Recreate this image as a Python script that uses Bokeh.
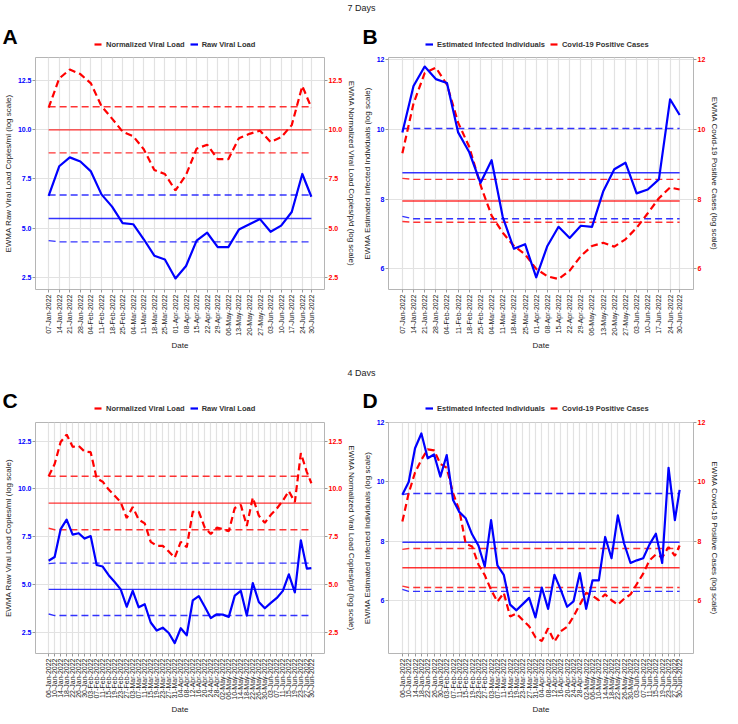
import math
from datetime import datetime
from bokeh.plotting import figure
from bokeh.models import (Range1d, LinearAxis, FixedTicker, NumeralTickFormatter,
                          Legend, LegendItem, ColumnDataSource, Label)
from bokeh.layouts import column, row
from bokeh.embed import file_html
from bokeh.resources import INLINE

# ---------------- data ----------------
dates7 = ["2022-01-07", "2022-01-14", "2022-01-21", "2022-01-28", "2022-02-04", "2022-02-11",
          "2022-02-18", "2022-02-25", "2022-03-04", "2022-03-11", "2022-03-18", "2022-03-25",
          "2022-04-01", "2022-04-08", "2022-04-15", "2022-04-22", "2022-04-29", "2022-05-06",
          "2022-05-13", "2022-05-20", "2022-05-27", "2022-06-03", "2022-06-10", "2022-06-17",
          "2022-06-24", "2022-06-30"]

dates4 = ["2022-01-06", "2022-01-10", "2022-01-14", "2022-01-18", "2022-01-22", "2022-01-26",
          "2022-01-30", "2022-02-03", "2022-02-07", "2022-02-11", "2022-02-15", "2022-02-19",
          "2022-02-23", "2022-02-27", "2022-03-03", "2022-03-07", "2022-03-11", "2022-03-15",
          "2022-03-19", "2022-03-23", "2022-03-27", "2022-03-31", "2022-04-04", "2022-04-08",
          "2022-04-12", "2022-04-16", "2022-04-20", "2022-04-24", "2022-04-28", "2022-05-02",
          "2022-05-06", "2022-05-10", "2022-05-14", "2022-05-18", "2022-05-22", "2022-05-26",
          "2022-05-30", "2022-06-03", "2022-06-07", "2022-06-11", "2022-06-15", "2022-06-19",
          "2022-06-23", "2022-06-27", "2022-06-30"]

# Panel A (7 days): raw vs normalized viral load
a_raw = [6.64, 8.14, 8.59, 8.38, 7.88, 6.72, 6.10, 5.27, 5.21, 4.45, 3.62, 3.43, 2.47,
         3.10, 4.38, 4.78, 4.05, 4.05, 4.94, 5.21, 5.47, 4.83, 5.14, 5.83, 7.75, 6.60]
a_norm = [11.10, 12.58, 13.03, 12.80, 12.33, 11.18, 10.55, 9.89, 9.66, 9.00, 7.95, 7.75, 6.92,
          7.70, 9.03, 9.23, 8.50, 8.50, 9.56, 9.78, 9.94, 9.37, 9.61, 10.22, 12.20, 11.10]
# control limits: (first value, steady value)
a_raw_lim = {"center": (5.50, 5.50), "ucl": (6.69, 6.69), "lcl": (4.38, 4.32)}
a_norm_lim = {"center": (9.98, 9.98), "ucl": (11.15, 11.15), "lcl": (8.82, 8.82)}

# Panel B (7 days): estimated infected vs positive cases
b_est = [9.92, 11.25, 11.81, 11.45, 11.34, 9.92, 9.35, 8.47, 9.12, 7.49, 6.58, 6.71, 5.76,
         6.66, 7.21, 6.89, 7.24, 7.21, 8.22, 8.86, 9.05, 8.17, 8.28, 8.57, 10.87, 10.42]
b_cases = [9.32, 10.75, 11.62, 11.78, 11.29, 10.20, 9.50, 8.41, 7.53, 7.04, 6.66, 6.42, 6.00,
           5.79, 5.71, 5.95, 6.37, 6.66, 6.75, 6.64, 6.85, 7.18, 7.60, 8.03, 8.34, 8.28]
b_est_lim = {"center": (8.76, 8.76), "ucl": (10.03, 10.03), "lcl": (7.51, 7.44)}
b_cases_lim = {"center": (7.95, 7.95), "ucl": (8.60, 8.57), "lcl": (7.36, 7.34)}

# Panel C (4 days): raw vs normalized viral load
c_raw = [6.25, 6.45, 7.90, 8.40, 7.62, 7.69, 7.41, 7.54, 6.03, 5.95, 5.50, 5.14, 4.76, 3.85,
         4.68, 3.82, 3.98, 3.03, 2.61, 2.76, 2.48, 1.95, 2.73, 2.36, 4.18, 4.41, 3.85, 3.26,
         3.46, 3.44, 3.32, 4.43, 4.68, 3.39, 5.09, 4.10, 3.77, 4.05, 4.31, 4.68, 5.54, 4.60,
         7.32, 5.84, 5.87]
c_norm = [10.66, 11.30, 12.45, 12.84, 12.20, 12.25, 11.95, 11.92, 10.55, 10.38, 9.97, 9.64,
          9.31, 8.48, 9.06, 8.40, 8.20, 7.24, 7.03, 7.03, 6.74, 6.41, 7.24, 6.96, 8.81, 8.81,
          7.98, 7.65, 7.98, 7.90, 7.80, 9.01, 9.17, 8.07, 9.55, 8.61, 8.23, 8.65, 8.98, 9.39,
          9.89, 9.31, 11.87, 10.88, 10.30]
c_raw_lim = {"center": (4.76, 4.76), "ucl": (6.10, 6.13), "lcl": (3.47, 3.39)}
c_norm_lim = {"center": (9.26, 9.26), "ucl": (10.66, 10.66), "lcl": (7.95, 7.87)}

# Panel D (4 days): estimated infected vs positive cases
d_est = [9.57, 10.00, 11.14, 11.64, 10.80, 10.93, 10.18, 10.91, 9.39, 8.98, 8.77, 8.23, 7.85,
         7.14, 8.71, 7.18, 6.86, 5.85, 5.66, 5.87, 6.08, 5.42, 6.43, 5.71, 6.86, 6.35, 5.78,
         5.96, 6.92, 5.71, 6.67, 6.67, 8.14, 7.42, 8.87, 7.91, 7.26, 7.35, 7.42, 7.89, 8.25,
         7.26, 10.48, 8.71, 9.73]
d_cases = [8.66, 9.62, 10.32, 10.75, 11.10, 11.07, 10.61, 10.48, 9.62, 9.03, 7.91, 7.82, 7.21,
           6.85, 6.35, 5.95, 6.25, 5.45, 5.55, 5.33, 5.12, 4.75, 4.62, 5.05, 4.60, 4.95, 5.10,
           5.45, 5.85, 6.25, 6.15, 6.00, 6.20, 6.00, 5.85, 6.05, 6.20, 6.55, 6.90, 7.35, 7.55,
           7.45, 7.80, 7.50, 7.85]
d_est_lim = {"center": (7.96, 7.96), "ucl": (9.57, 9.61), "lcl": (6.37, 6.30)}
d_cases_lim = {"center": (7.10, 7.10), "ucl": (7.72, 7.75), "lcl": (6.48, 6.43)}

ticks_vl = [2.5, 5.0, 7.5, 10.0, 12.5]
ticks_ct = [6, 8, 10, 12]

LBL_VL_L = "EWMA Raw Viral Load Copies/ml (log scale)"
LBL_VL_R = "EWMA Normalized Viral Load Copies/p/d (log scale)"
LBL_CT_L = "EWMA Estimated Infected Individuals (log scale)"
LBL_CT_R = "EWMA Covid-19 Positive Cases (log scale)"
NAME_RAW, NAME_NORM = "Raw Viral Load", "Normalized Viral Load"
NAME_EST, NAME_CASES = "Estimated Infected Individuals", "Covid-19 Positive Cases"

# ---------------- style ----------------
BLUE = "#0000FF"
RED = "#FF0000"
FONT = "Liberation Sans"
TXT = "#222222"
ORIGIN = datetime(2022, 1, 1)
DASH = "7 4"


def day_num(s):
    return (datetime.strptime(s, "%Y-%m-%d") - ORIGIN).days


def blank(width, height):
    f = figure(width=width, height=height, x_range=Range1d(0, 1), y_range=Range1d(0, 1),
               toolbar_location=None, output_backend="svg", min_border=0,
               x_axis_location=None, y_axis_location=None)
    f.grid.visible = False
    f.outline_line_color = None
    return f


def add_limits(p, x, lim, color, range_name):
    for key, dash in (("center", "solid"), ("ucl", DASH), ("lcl", DASH)):
        first, steady = lim[key]
        p.line(x=[x[0], x[1], x[-1]], y=[first, steady, steady], line_color=color,
               line_width=1.4, line_alpha=0.8, line_dash=dash, y_range_name=range_name)


def make_panel(dates, blue_vals, red_vals, blue_lim, red_lim, y_lo, y_hi, y_ticks, y_fmt,
               left_title, right_title, width, height, b_left, b_right, b_top, b_bottom):
    x = [day_num(d) for d in dates]
    pad = (x[-1] - x[0]) * 0.05
    p = figure(width=width, height=height, x_range=Range1d(x[0] - pad, x[-1] + pad),
               y_range=Range1d(y_lo, y_hi), toolbar_location=None, output_backend="svg",
               min_border_left=b_left, min_border_right=b_right, min_border_top=b_top,
               min_border_bottom=b_bottom)
    p.extra_y_ranges = {"right": Range1d(y_lo, y_hi)}

    p.grid.grid_line_color = "#e2e2e2"
    p.grid.grid_line_width = 1.2
    p.outline_line_color = "#b5b5b5"
    p.outline_line_width = 1

    p.xaxis.ticker = FixedTicker(ticks=x)
    p.xaxis.major_label_overrides = {
        xi: datetime.strptime(d, "%Y-%m-%d").strftime("%d-%b-%Y") for xi, d in zip(x, dates)}
    p.xaxis.major_label_orientation = math.pi / 2
    p.xaxis.major_label_text_font = FONT
    p.xaxis.major_label_text_font_size = "7px"
    p.xaxis.major_label_text_color = TXT
    p.xaxis.major_label_standoff = 2
    p.xaxis.axis_label = "Date"
    p.xaxis.axis_label_text_font = FONT
    p.xaxis.axis_label_text_font_size = "8px"
    p.xaxis.axis_label_text_font_style = "normal"
    p.xaxis.axis_label_text_color = TXT
    p.xaxis.axis_label_standoff = 2

    p.yaxis.ticker = FixedTicker(ticks=y_ticks)
    p.yaxis.formatter = NumeralTickFormatter(format=y_fmt)
    p.yaxis.major_label_text_color = BLUE
    p.yaxis.axis_label = left_title

    rax = LinearAxis(y_range_name="right", ticker=FixedTicker(ticks=y_ticks),
                     formatter=NumeralTickFormatter(format=y_fmt), axis_label=right_title)
    rax.major_label_text_color = RED
    p.add_layout(rax, "right")

    for ax in (p.yaxis[0], rax):
        ax.major_label_text_font = FONT
        ax.major_label_text_font_size = "7px"
        ax.major_label_text_font_style = "bold"
        ax.major_label_standoff = 1
        ax.axis_label_text_font = FONT
        ax.axis_label_text_font_size = "8px"
        ax.axis_label_text_font_style = "normal"
        ax.axis_label_text_color = TXT
        ax.axis_label_standoff = 2

    for ax in p.axis:
        ax.axis_line_color = None
        ax.major_tick_line_color = "#9a9a9a"
        ax.major_tick_out = 3
        ax.major_tick_in = 0
        ax.minor_tick_line_color = None

    add_limits(p, x, red_lim, RED, "right")
    add_limits(p, x, blue_lim, BLUE, "default")

    p.line("x", "y", source=ColumnDataSource(dict(x=x, y=red_vals)), line_color=RED,
           line_width=2.2, line_dash=DASH, y_range_name="right")
    p.line("x", "y", source=ColumnDataSource(dict(x=x, y=blue_vals)), line_color=BLUE,
           line_width=2.2, line_join="round")
    return p


def strip(letter, width, height, letter_x, letter_y, entries, legend_x):
    """Panel letter plus the legend that sits above each panel."""
    s = blank(width, height)
    s.add_layout(Label(x=letter_x, y=letter_y, x_units="screen", y_units="screen",
                       text=letter, text_font=FONT, text_font_size="21px",
                       text_font_style="bold", text_color="#000000",
                       text_baseline="middle"))
    items = []
    for name, color, dash in entries:
        # legend-key renderer only (NaN point: nothing drawn in the strip itself)
        r = s.line(x=[float("nan")], y=[float("nan")], line_color=color, line_width=2.2,
                   line_dash=dash)
        items.append(LegendItem(label=name, renderers=[r]))
    legend = Legend(items=items, orientation="horizontal", location=(legend_x, 1),
                    glyph_width=8, glyph_height=10, label_height=10, label_width=10,
                    label_standoff=4, spacing=5, padding=1, margin=0,
                    label_text_font=FONT, label_text_font_size="7.5px",
                    label_text_font_style="bold", label_text_color="#333333",
                    border_line_color=None, background_fill_alpha=0)
    s.add_layout(legend, "center")
    return s


def header(text, height, text_y):
    f = blank(722, height)
    f.add_layout(Label(x=361, y=text_y, x_units="screen", y_units="screen", text=text,
                       text_align="center", text_baseline="middle", text_font=FONT,
                       text_font_size="9px", text_color=TXT))
    return f


leg_vl = [(NAME_NORM, RED, DASH), (NAME_RAW, BLUE, "solid")]
leg_ct = [(NAME_EST, BLUE, "solid"), (NAME_CASES, RED, DASH)]

WA, WB = 359, 363

h1 = header("7 Days", 14, 7)
sA = strip("A", WA, 36, 2, 14, leg_vl, 94)
sB = strip("B", WB, 36, 3, 14, leg_ct, 66)
pA = make_panel(dates7, a_raw, a_norm, a_raw_lim, a_norm_lim, 1.91, 13.64, ticks_vl, "0.0",
                LBL_VL_L, LBL_VL_R, WA, 302, 29, 12, 7, 58)
pB = make_panel(dates7, b_est, b_cases, b_est_lim, b_cases_lim, 5.41, 12.07, ticks_ct, "0",
                LBL_CT_L, LBL_CT_R, WB, 302, 25, 10, 7, 58)

h2 = header("4 Days", 24, 4)
sC = strip("C", WA, 38, 2, 14, leg_vl, 94)
sD = strip("D", WB, 38, 3, 14, leg_ct, 66)
pC = make_panel(dates4, c_raw, c_norm, c_raw_lim, c_norm_lim, 1.41, 13.47, ticks_vl, "0.0",
                LBL_VL_L, LBL_VL_R, WA, 302, 29, 12, 8, 56)
pD = make_panel(dates4, d_est, d_cases, d_est_lim, d_cases_lim, 4.20, 12.01, ticks_ct, "0",
                LBL_CT_L, LBL_CT_R, WB, 302, 25, 10, 8, 56)

layout = column(h1, row(sA, sB), row(pA, pB), h2, row(sC, sD), row(pC, pD))

open("out.html", "w").write(file_html(layout, INLINE))
